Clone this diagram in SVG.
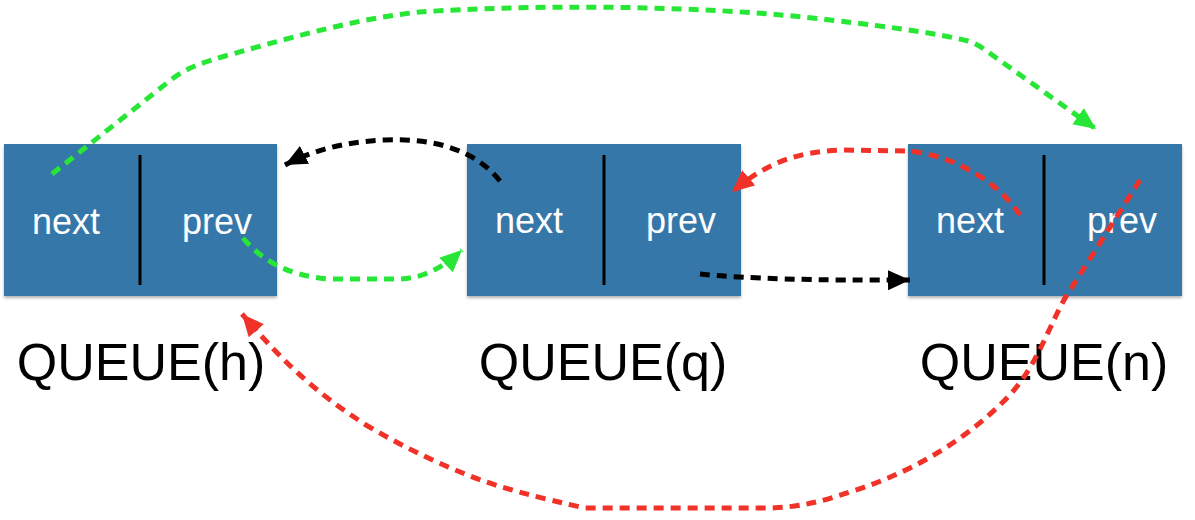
<svg xmlns="http://www.w3.org/2000/svg" width="1195" height="520" viewBox="0 0 1195 520">
<style>
.box{fill:#3577a8}
.div{stroke:#000;stroke-width:3}
.fld{font-family:"Liberation Sans",Arial,sans-serif;font-size:36px;fill:#fff;text-anchor:middle}
.lbl{font-family:"Liberation Sans",Arial,sans-serif;font-size:52px;fill:#000;text-anchor:middle}
.c{fill:none;stroke-width:5;stroke-dasharray:10 7}
.g{stroke:#28e636}
.r{stroke:#f03228}
.k{stroke:#000}
</style>
<defs>
<filter id="sh" x="-5%" y="-5%" width="110%" height="115%">
<feDropShadow dx="0" dy="2" stdDeviation="1.5" flood-color="#000" flood-opacity="0.3"/>
</filter>
<marker id="ag" markerUnits="userSpaceOnUse" markerWidth="24" markerHeight="22" refX="22" refY="11" orient="auto"><path d="M0,1 L22,11 L0,21 Z" fill="#28e636"/></marker>
<marker id="ar" markerUnits="userSpaceOnUse" markerWidth="24" markerHeight="22" refX="22" refY="11" orient="auto"><path d="M0,1 L22,11 L0,21 Z" fill="#f03228"/></marker>
<marker id="ak" markerUnits="userSpaceOnUse" markerWidth="24" markerHeight="22" refX="22" refY="11" orient="auto"><path d="M0,1 L22,11 L0,21 Z" fill="#000"/></marker>
</defs>
<rect width="1195" height="520" fill="#fff"/>
<g id="node-h">
<rect class="box" x="4" y="144" width="273" height="152" filter="url(#sh)"/>
<line class="div" x1="140" y1="155" x2="140" y2="285"/>
<text class="fld" x="66" y="234">next</text>
<text class="fld" x="217" y="234">prev</text>
<text class="lbl" x="141" y="380">QUEUE(h)</text>
</g>
<g id="node-q">
<rect class="box" x="467" y="144" width="274" height="152" filter="url(#sh)"/>
<line class="div" x1="604" y1="155" x2="604" y2="285"/>
<text class="fld" x="529" y="233">next</text>
<text class="fld" x="681" y="233">prev</text>
<text class="lbl" x="603" y="380">QUEUE(q)</text>
</g>
<g id="node-n">
<rect class="box" x="908" y="144" width="274" height="152" filter="url(#sh)"/>
<line class="div" x1="1044" y1="155" x2="1044" y2="285"/>
<text class="fld" x="970" y="233">next</text>
<text class="fld" x="1122" y="233">prev</text>
<text class="lbl" x="1044" y="380">QUEUE(n)</text>
</g>
<g id="connectors">
<path class="c g" d="M52,174 L172,79 C 190,66 205,62 225,56 C 300,35 360,18 420,12 C 520,5 700,4 830,20 C 900,28 940,34 968,41 C 980,45 985,50 995,57 L1096,129" marker-end="url(#ag)"/>
<path class="c k" d="M500,181 C 475,150 435,138 385,140 C 340,142 310,152 285,165" marker-end="url(#ak)"/>
<path class="c g" d="M243,238 C 260,258 285,276 330,279 L 400,279 C 425,278 445,266 462,250" marker-end="url(#ag)"/>
<path class="c r" d="M1020,215 C 1000,185 960,157 910,151 L 840,150 C 795,152 765,164 732,192" marker-end="url(#ar)"/>
<path class="c k" d="M700,274 Q 770,281 910,280" marker-end="url(#ak)"/>
<path class="c r" d="M1140,180 L1065,298 C 1045,335 1035,370 1005,400 C 970,435 920,470 850,492 C 820,502 800,507 770,508 L 585,508 C 540,498 500,488 470,476 C 430,460 400,445 366,425 C 320,395 290,370 242,314" marker-end="url(#ar)"/>
</g>
</svg>
